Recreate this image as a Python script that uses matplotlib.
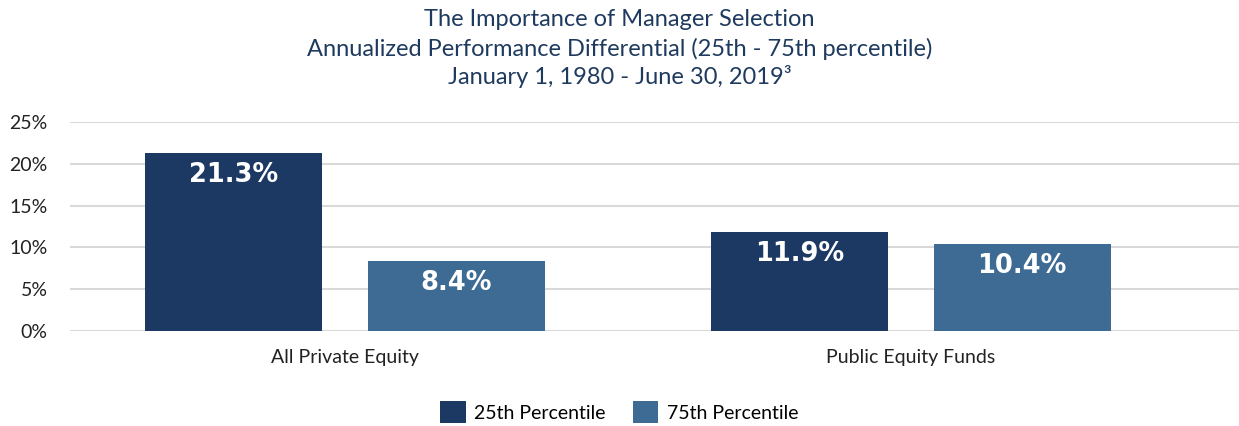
import matplotlib
matplotlib.use('Agg')

import numpy as np
import matplotlib.pyplot as plt

# Chart data
categories = ["All Private Equity", "Public Equity Funds"]
series_names = ["25th Percentile", "75th Percentile"]
p25 = [21.3, 11.9]
p75 = [8.4, 10.4]
yticks = [0, 5, 10, 15, 20, 25]

navy = "#1b3963"
steel = "#3e6b94"
title_col = "#1f3a5f"
fnt = ["Lato", "DejaVu Sans"]

fig = plt.figure(figsize=(12.39, 4.26), dpi=100)
ax = fig.add_axes([70 / 1239, 1 - 331 / 426, 1 - 70 / 1239, (331 - 122) / 426])

x = np.arange(len(categories))
w = 0.313
off = 0.197
b1 = ax.bar(x - off, p25, w, color=navy, label=series_names[0], zorder=3)
b2 = ax.bar(x + off, p75, w, color=steel, label=series_names[1], zorder=3)

# value labels inside the bar tops
for bars in (b1, b2):
    for r in bars:
        ax.annotate(f"{r.get_height():.1f}%",
                    (r.get_x() + r.get_width() / 2, r.get_height()),
                    xytext=(0, -6.5), textcoords="offset points",
                    ha="center", va="top", color="white",
                    fontsize=18.5, fontweight="bold", family="DejaVu Sans", zorder=4)

ax.set_xlim(-0.486, 1.580)
ax.set_ylim(0, 25)
ax.set_yticks(yticks)
ax.set_yticklabels([f"{t}%" for t in yticks], family=fnt, fontsize=14, color="#222222")
ax.set_xticks(x)
ax.set_xticklabels(categories, family=fnt, fontsize=14, color="#222222")
ax.tick_params(axis="both", length=0)
ax.tick_params(axis="y", pad=16)
ax.tick_params(axis="x", pad=13)
ax.grid(axis="y", color="#d9d9d9", linewidth=1.5, zorder=0)
for s in ax.spines.values():
    s.set_visible(False)

fig.text(0.5, 1 - 20 / 426, "The Importance of Manager Selection",
         ha="center", va="center", family=fnt, fontsize=17, color=title_col)
fig.text(0.5, 1 - 49 / 426, "Annualized Performance Differential (25th - 75th percentile)",
         ha="center", va="center", family=fnt, fontsize=17, color=title_col)
fig.text(0.5, 1 - 77 / 426, "January 1, 1980 - June 30, 2019³",
         ha="center", va="center", family=fnt, fontsize=17, color=title_col)

fig.legend(loc="center", bbox_to_anchor=(0.5, 1 - 412 / 426), ncol=2, frameon=False,
           prop={"family": fnt, "size": 14}, handlelength=1.3, handleheight=1.3,
           columnspacing=1.4, handletextpad=0.45)

plt.savefig("out.png", dpi=100)
